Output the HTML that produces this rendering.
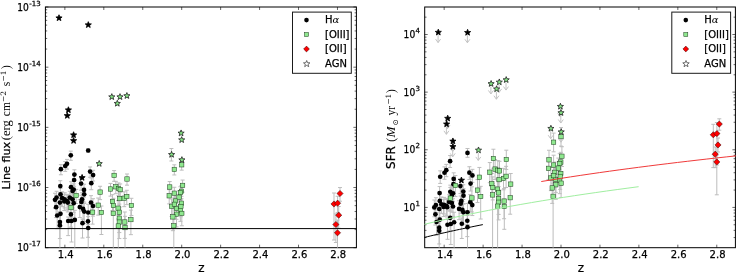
<!DOCTYPE html>
<html><head><meta charset="utf-8"><style>
html,body{margin:0;padding:0;background:#fff;}
svg{display:block;}
.t{font-family:"DejaVu Sans","Liberation Sans",sans-serif;font-size:10px;fill:#000;stroke:#000;stroke-width:0.25px;}
.m{font-family:"DejaVu Serif","Liberation Serif",serif;font-style:italic;stroke-width:0;}
.s{font-family:"Liberation Serif","DejaVu Serif",serif;}
.i{font-style:italic;}
.sd{font-family:"DejaVu Serif",serif;}
.sup{font-size:7px;}
.lg{font-size:10px;}
.yt{font-size:9.5px;}
.sub{font-size:7px;}
</style></head><body>
<svg width="736" height="272" viewBox="0 0 736 272">
<rect width="736" height="272" fill="#fff"/>
<rect x="45.4" y="7" width="311" height="240.7" fill="none" stroke="#000" stroke-width="1"/>
<path d="M64.87,247.7 v-3 M64.87,7 v3 M103.81,247.7 v-3 M103.81,7 v3 M142.76,247.7 v-3 M142.76,7 v3 M181.7,247.7 v-3 M181.7,7 v3 M220.64,247.7 v-3 M220.64,7 v3 M259.59,247.7 v-3 M259.59,7 v3 M298.53,247.7 v-3 M298.53,7 v3 M337.47,247.7 v-3 M337.47,7 v3 M45.4,247.7 h3 M356.4,247.7 h-3 M45.4,187.52 h3 M356.4,187.52 h-3 M45.4,127.35 h3 M356.4,127.35 h-3 M45.4,67.18 h3 M356.4,67.18 h-3 M45.4,7 h3 M356.4,7 h-3 M45.4,229.59 h1.8 M356.4,229.59 h-1.8 M45.4,218.99 h1.8 M356.4,218.99 h-1.8 M45.4,211.47 h1.8 M356.4,211.47 h-1.8 M45.4,205.64 h1.8 M356.4,205.64 h-1.8 M45.4,200.87 h1.8 M356.4,200.87 h-1.8 M45.4,196.85 h1.8 M356.4,196.85 h-1.8 M45.4,193.36 h1.8 M356.4,193.36 h-1.8 M45.4,190.28 h1.8 M356.4,190.28 h-1.8 M45.4,169.41 h1.8 M356.4,169.41 h-1.8 M45.4,158.81 h1.8 M356.4,158.81 h-1.8 M45.4,151.3 h1.8 M356.4,151.3 h-1.8 M45.4,145.46 h1.8 M356.4,145.46 h-1.8 M45.4,140.7 h1.8 M356.4,140.7 h-1.8 M45.4,136.67 h1.8 M356.4,136.67 h-1.8 M45.4,133.18 h1.8 M356.4,133.18 h-1.8 M45.4,130.1 h1.8 M356.4,130.1 h-1.8 M45.4,109.24 h1.8 M356.4,109.24 h-1.8 M45.4,98.64 h1.8 M356.4,98.64 h-1.8 M45.4,91.12 h1.8 M356.4,91.12 h-1.8 M45.4,85.29 h1.8 M356.4,85.29 h-1.8 M45.4,80.52 h1.8 M356.4,80.52 h-1.8 M45.4,76.5 h1.8 M356.4,76.5 h-1.8 M45.4,73.01 h1.8 M356.4,73.01 h-1.8 M45.4,69.93 h1.8 M356.4,69.93 h-1.8 M45.4,49.06 h1.8 M356.4,49.06 h-1.8 M45.4,38.46 h1.8 M356.4,38.46 h-1.8 M45.4,30.95 h1.8 M356.4,30.95 h-1.8 M45.4,25.11 h1.8 M356.4,25.11 h-1.8 M45.4,20.35 h1.8 M356.4,20.35 h-1.8 M45.4,16.32 h1.8 M356.4,16.32 h-1.8 M45.4,12.83 h1.8 M356.4,12.83 h-1.8 M45.4,9.75 h1.8 M356.4,9.75 h-1.8" stroke="#000" stroke-width="0.6" fill="none"/>
<rect x="424.7" y="7" width="310.7" height="240.7" fill="none" stroke="#000" stroke-width="1"/>
<path d="M444.17,247.7 v-3 M444.17,7 v3 M483.11,247.7 v-3 M483.11,7 v3 M522.06,247.7 v-3 M522.06,7 v3 M561,247.7 v-3 M561,7 v3 M599.94,247.7 v-3 M599.94,7 v3 M638.89,247.7 v-3 M638.89,7 v3 M677.83,247.7 v-3 M677.83,7 v3 M716.77,247.7 v-3 M716.77,7 v3 M424.7,207.41 h3 M735.4,207.41 h-3 M424.7,149.78 h3 M735.4,149.78 h-3 M424.7,92.14 h3 M735.4,92.14 h-3 M424.7,34.5 h3 M735.4,34.5 h-3 M424.7,237.55 h1.8 M735.4,237.55 h-1.8 M424.7,230.35 h1.8 M735.4,230.35 h-1.8 M424.7,224.76 h1.8 M735.4,224.76 h-1.8 M424.7,220.2 h1.8 M735.4,220.2 h-1.8 M424.7,216.34 h1.8 M735.4,216.34 h-1.8 M424.7,213 h1.8 M735.4,213 h-1.8 M424.7,210.05 h1.8 M735.4,210.05 h-1.8 M424.7,190.06 h1.8 M735.4,190.06 h-1.8 M424.7,179.91 h1.8 M735.4,179.91 h-1.8 M424.7,172.71 h1.8 M735.4,172.71 h-1.8 M424.7,167.13 h1.8 M735.4,167.13 h-1.8 M424.7,162.56 h1.8 M735.4,162.56 h-1.8 M424.7,158.7 h1.8 M735.4,158.7 h-1.8 M424.7,155.36 h1.8 M735.4,155.36 h-1.8 M424.7,152.41 h1.8 M735.4,152.41 h-1.8 M424.7,132.42 h1.8 M735.4,132.42 h-1.8 M424.7,122.28 h1.8 M735.4,122.28 h-1.8 M424.7,115.07 h1.8 M735.4,115.07 h-1.8 M424.7,109.49 h1.8 M735.4,109.49 h-1.8 M424.7,104.92 h1.8 M735.4,104.92 h-1.8 M424.7,101.07 h1.8 M735.4,101.07 h-1.8 M424.7,97.72 h1.8 M735.4,97.72 h-1.8 M424.7,94.78 h1.8 M735.4,94.78 h-1.8 M424.7,74.79 h1.8 M735.4,74.79 h-1.8 M424.7,64.64 h1.8 M735.4,64.64 h-1.8 M424.7,57.44 h1.8 M735.4,57.44 h-1.8 M424.7,51.85 h1.8 M735.4,51.85 h-1.8 M424.7,47.29 h1.8 M735.4,47.29 h-1.8 M424.7,43.43 h1.8 M735.4,43.43 h-1.8 M424.7,40.09 h1.8 M735.4,40.09 h-1.8 M424.7,37.14 h1.8 M735.4,37.14 h-1.8 M424.7,17.15 h1.8 M735.4,17.15 h-1.8" stroke="#000" stroke-width="0.6" fill="none"/>
<g stroke="#bdbdbd" stroke-width="1" fill="none"><path d="M70.8,151.11 V160.3 M68.8,151.11 h4 M68.8,160.3 h4"/><path d="M67,159.4 V169.1 M65,159.4 h4 M65,169.1 h4"/><path d="M65.2,161.53 V171.39 M63.2,161.53 h4 M63.2,171.39 h4"/><path d="M60.9,164.63 V174.75 M58.9,164.63 h4 M58.9,174.75 h4"/><path d="M74.4,169.82 V180.46 M72.4,169.82 h4 M72.4,180.46 h4"/><path d="M74.1,174.96 V186.25 M72.1,174.96 h4 M72.1,186.25 h4"/><path d="M81.1,178.36 V190.16 M79.1,178.36 h4 M79.1,190.16 h4"/><path d="M90.1,166.94 V177.28 M88.1,166.94 h4 M88.1,177.28 h4"/><path d="M93.1,170.3 V180.99 M91.1,170.3 h4 M91.1,180.99 h4"/><path d="M91.3,177.99 V189.73 M89.3,177.99 h4 M89.3,189.73 h4"/><path d="M88.2,148.6 V152.4 M86.2,148.6 h4 M86.2,152.4 h4"/><path d="M60.3,180.71 V192.91 M58.3,180.71 h4 M58.3,192.91 h4"/><path d="M71,181.73 V194.13 M69,181.73 h4 M69,194.13 h4"/><path d="M73.7,183.87 V196.69 M71.7,183.87 h4 M71.7,196.69 h4"/><path d="M84,184.24 V197.14 M82,184.24 h4 M82,197.14 h4"/><path d="M72.6,185.26 V198.37 M70.6,185.26 h4 M70.6,198.37 h4"/><path d="M64.7,192.81 V207.96 M62.7,192.81 h4 M62.7,207.96 h4"/><path d="M67.8,195.75 V211.92 M65.8,195.75 h4 M65.8,211.92 h4"/><path d="M60.5,188.29 V202.13 M58.5,188.29 h4 M58.5,202.13 h4"/><path d="M84.2,188.29 V202.13 M82.2,188.29 h4 M82.2,202.13 h4"/><path d="M56.6,191.28 V205.95 M54.6,191.28 h4 M54.6,205.95 h4"/><path d="M55,193.26 V208.55 M53,193.26 h4 M53,208.55 h4"/><path d="M62.1,191.82 V206.66 M60.1,191.82 h4 M60.1,206.66 h4"/><path d="M64.3,194.78 V210.58 M62.3,194.78 h4 M62.3,210.58 h4"/><path d="M67.1,194.33 V209.98 M65.1,194.33 h4 M65.1,209.98 h4"/><path d="M69.8,191.28 V205.95 M67.8,191.28 h4 M67.8,205.95 h4"/><path d="M72.6,192.81 V207.96 M70.6,192.81 h4 M70.6,207.96 h4"/><path d="M73.7,196.28 V212.65 M71.7,196.28 h4 M71.7,212.65 h4"/><path d="M82,192.81 V207.96 M80,192.81 h4 M80,207.96 h4"/><path d="M81.4,195.22 V211.19 M79.4,195.22 h4 M79.4,211.19 h4"/><path d="M59.9,195.75 V211.92 M57.9,195.75 h4 M57.9,211.92 h4"/><path d="M56.1,199.78 V217.62 M54.1,199.78 h4 M54.1,217.62 h4"/><path d="M79.8,199.69 V217.5 M77.8,199.69 h4 M77.8,217.5 h4"/><path d="M83.1,201.24 V219.8 M81.1,201.24 h4 M81.1,219.8 h4"/><path d="M84.2,203.54 V223.34 M82.2,203.54 h4 M82.2,223.34 h4"/><path d="M57.2,206.79 V228.68 M55.2,206.79 h4 M55.2,228.68 h4"/><path d="M60.5,205.38 V226.32 M58.5,205.38 h4 M58.5,226.32 h4"/><path d="M70.9,205.88 V227.14 M68.9,205.88 h4 M68.9,227.14 h4"/><path d="M68.2,217 V235.6 M66.2,217 h4 M66.2,235.6 h4"/><path d="M71.5,217 V242 M69.5,217 h4 M69.5,242 h4"/><path d="M74.8,210.35 V247.7 M72.8,210.35 h4"/><path d="M59.9,212.09 V238.56 M57.9,212.09 h4 M57.9,238.56 h4"/><path d="M59.9,214.64 V247.7 M57.9,214.64 h4"/><path d="M82.5,219 V238 M80.5,219 h4 M80.5,238 h4"/><path d="M88,211.46 V237.29 M86,211.46 h4 M86,237.29 h4"/><path d="M88.2,216.6 V247.7 M86.2,216.6 h4"/><path d="M91,195.66 V211.79 M89,195.66 h4 M89,211.79 h4"/><path d="M93,198.73 V216.11 M91,198.73 h4 M91,216.11 h4"/><path d="M88.2,204.29 V224.55 M86.2,204.29 h4 M86.2,224.55 h4"/><path d="M76.1,189.38 V203.51 M74.1,189.38 h4 M74.1,203.51 h4"/><path d="M71,200.12 V218.13 M69,200.12 h4 M69,218.13 h4"/><path d="M92.6,204.04 V224.14 M90.6,204.04 h4 M90.6,224.14 h4"/><path d="M98.2,198.04 V215.11 M96.2,198.04 h4 M96.2,215.11 h4"/><path d="M100.1,186.27 V199.62 M98.1,186.27 h4 M98.1,199.62 h4"/><path d="M101.4,206 V234.5 M99.4,206 h4 M99.4,234.5 h4"/><path d="M110.5,183.41 V196.13 M108.5,183.41 h4 M108.5,196.13 h4"/><path d="M115.8,181.36 V193.68 M113.8,181.36 h4 M113.8,193.68 h4"/><path d="M118.5,182.94 V195.57 M116.5,182.94 h4 M116.5,195.57 h4"/><path d="M114.1,170.58 V181.31 M112.1,170.58 h4 M112.1,181.31 h4"/><path d="M127,174.01 V185.17 M125,174.01 h4 M125,185.17 h4"/><path d="M120.2,183.96 V196.8 M118.2,183.96 h4 M118.2,196.8 h4"/><path d="M119.8,192.18 V207.13 M117.8,192.18 h4 M117.8,207.13 h4"/><path d="M124.2,191.82 V206.66 M122.2,191.82 h4 M122.2,206.66 h4"/><path d="M126.8,190.29 V204.67 M124.8,190.29 h4 M124.8,204.67 h4"/><path d="M112.5,194.69 V210.46 M110.5,194.69 h4 M110.5,210.46 h4"/><path d="M113.4,198.3 V215.48 M111.4,198.3 h4 M111.4,215.48 h4"/><path d="M113.3,204.96 V247.7 M111.3,204.96 h4"/><path d="M118.1,200.64 V218.9 M116.1,200.64 h4 M116.1,218.9 h4"/><path d="M119.3,204.13 V224.28 M117.3,204.13 h4 M117.3,224.28 h4"/><path d="M119.3,208.99 V232.57 M117.3,208.99 h4 M117.3,232.57 h4"/><path d="M119.3,212.09 V238.56 M117.3,212.09 h4 M117.3,238.56 h4"/><path d="M124.8,212.01 V238.4 M122.8,212.01 h4 M122.8,238.4 h4"/><path d="M118.3,215.1 V247.7 M116.3,215.1 h4"/><path d="M125,216.3 V247.7 M123,216.3 h4"/><path d="M131.4,198.3 V215.48 M129.4,198.3 h4 M129.4,215.48 h4"/><path d="M130.9,210.11 V234.67 M128.9,210.11 h4 M128.9,234.67 h4"/><path d="M181.7,160.37 V170.14 M179.7,160.37 h4 M179.7,170.14 h4"/><path d="M174.3,164.82 V174.96 M172.3,164.82 h4 M172.3,174.96 h4"/><path d="M169.7,181.55 V193.9 M167.7,181.55 h4 M167.7,193.9 h4"/><path d="M182.6,180.05 V192.14 M180.6,180.05 h4 M180.6,192.14 h4"/><path d="M181.5,185.54 V198.71 M179.5,185.54 h4 M179.5,198.71 h4"/><path d="M180.4,186.73 V200.19 M178.4,186.73 h4 M178.4,200.19 h4"/><path d="M174.3,187.28 V200.87 M172.3,187.28 h4 M172.3,200.87 h4"/><path d="M169.2,189.65 V203.86 M167.2,189.65 h4 M167.2,203.86 h4"/><path d="M179,190.92 V205.49 M177,190.92 h4 M177,205.49 h4"/><path d="M175.4,194.33 V209.98 M173.4,194.33 h4 M173.4,209.98 h4"/><path d="M181.5,196.28 V212.65 M179.5,196.28 h4 M179.5,212.65 h4"/><path d="M171.6,199 V216.49 M169.6,199 h4 M169.6,216.49 h4"/><path d="M176.5,200.9 V219.28 M174.5,200.9 h4 M174.5,219.28 h4"/><path d="M180.4,202.26 V221.36 M178.4,202.26 h4 M178.4,221.36 h4"/><path d="M176.5,205.71 V226.87 M174.5,205.71 h4 M174.5,226.87 h4"/><path d="M181.8,205.05 V225.77 M179.8,205.05 h4 M179.8,225.77 h4"/><path d="M172.9,207.93 V230.68 M170.9,207.93 h4 M170.9,230.68 h4"/><path d="M173.8,214.94 V247.7 M171.8,214.94 h4"/><path d="M180.9,199.17 V216.74 M178.9,199.17 h4 M178.9,216.74 h4"/><path d="M174.4,197.25 V214 M172.4,197.25 h4 M172.4,214 h4"/><path d="M334,193 V240 M332,193 h4 M332,240 h4"/><path d="M337.6,196.28 V212.65 M335.6,196.28 h4 M335.6,212.65 h4"/><path d="M340,187.56 V201.21 M338,187.56 h4 M338,201.21 h4"/><path d="M338.7,206.54 V228.26 M336.7,206.54 h4 M336.7,228.26 h4"/><path d="M335.9,213.95 V242.51 M333.9,213.95 h4 M333.9,242.51 h4"/><path d="M337.5,220.07 V247.7 M335.5,220.07 h4"/><path d="M171.4,148.5 V161 M169.4,148.5 h4 M169.4,161 h4"/></g>
<g fill="#000"><circle cx="70.8" cy="155.3" r="2.35"/><circle cx="67" cy="163.8" r="2.35"/><circle cx="65.2" cy="166" r="2.35"/><circle cx="60.9" cy="169.2" r="2.35"/><circle cx="74.4" cy="174.6" r="2.35"/><circle cx="74.1" cy="180" r="2.35"/><circle cx="81.1" cy="183.6" r="2.35"/><circle cx="90.1" cy="171.6" r="2.35"/><circle cx="93.1" cy="175.1" r="2.35"/><circle cx="91.3" cy="183.2" r="2.35"/><circle cx="88.2" cy="150.5" r="2.35"/><circle cx="60.3" cy="186.1" r="2.35"/><circle cx="71" cy="187.2" r="2.35"/><circle cx="73.7" cy="189.5" r="2.35"/><circle cx="84" cy="189.9" r="2.35"/><circle cx="72.6" cy="191" r="2.35"/><circle cx="64.7" cy="199.3" r="2.35"/><circle cx="67.8" cy="202.6" r="2.35"/><circle cx="60.5" cy="194.3" r="2.35"/><circle cx="84.2" cy="194.3" r="2.35"/><circle cx="56.6" cy="197.6" r="2.35"/><circle cx="55" cy="199.8" r="2.35"/><circle cx="62.1" cy="198.2" r="2.35"/><circle cx="64.3" cy="201.5" r="2.35"/><circle cx="67.1" cy="201" r="2.35"/><circle cx="69.8" cy="197.6" r="2.35"/><circle cx="72.6" cy="199.3" r="2.35"/><circle cx="73.7" cy="203.2" r="2.35"/><circle cx="82" cy="199.3" r="2.35"/><circle cx="81.4" cy="202" r="2.35"/><circle cx="59.9" cy="202.6" r="2.35"/><circle cx="56.1" cy="207.2" r="2.35"/><circle cx="79.8" cy="207.1" r="2.35"/><circle cx="83.1" cy="208.9" r="2.35"/><circle cx="84.2" cy="211.6" r="2.35"/><circle cx="57.2" cy="215.5" r="2.35"/><circle cx="60.5" cy="213.8" r="2.35"/><circle cx="70.9" cy="214.4" r="2.35"/><circle cx="68.2" cy="221" r="2.35"/><circle cx="71.5" cy="221" r="2.35"/><circle cx="74.8" cy="219.9" r="2.35"/><circle cx="59.9" cy="222.1" r="2.35"/><circle cx="59.9" cy="225.4" r="2.35"/><circle cx="82.5" cy="223.2" r="2.35"/><circle cx="88" cy="221.3" r="2.35"/><circle cx="88.2" cy="228" r="2.35"/><circle cx="91" cy="202.5" r="2.35"/><circle cx="93" cy="206" r="2.35"/><circle cx="88.2" cy="212.5" r="2.35"/></g>
<g fill="#8fe88f" stroke="#1a3a1a" stroke-width="0.5"><rect x="73.9" y="193.3" width="4.4" height="4.4"/><rect x="68.8" y="205.4" width="4.4" height="4.4"/><rect x="90.4" y="210" width="4.4" height="4.4"/><rect x="96" y="203" width="4.4" height="4.4"/><rect x="97.9" y="189.9" width="4.4" height="4.4"/><rect x="99.2" y="210.3" width="4.4" height="4.4"/><rect x="108.3" y="186.8" width="4.4" height="4.4"/><rect x="113.6" y="184.6" width="4.4" height="4.4"/><rect x="116.3" y="186.3" width="4.4" height="4.4"/><rect x="111.9" y="173.2" width="4.4" height="4.4"/><rect x="124.8" y="176.8" width="4.4" height="4.4"/><rect x="118" y="187.4" width="4.4" height="4.4"/><rect x="117.6" y="196.4" width="4.4" height="4.4"/><rect x="122" y="196" width="4.4" height="4.4"/><rect x="124.6" y="194.3" width="4.4" height="4.4"/><rect x="110.3" y="199.2" width="4.4" height="4.4"/><rect x="111.2" y="203.3" width="4.4" height="4.4"/><rect x="111.1" y="211.1" width="4.4" height="4.4"/><rect x="115.9" y="206" width="4.4" height="4.4"/><rect x="117.1" y="210.1" width="4.4" height="4.4"/><rect x="117.1" y="216" width="4.4" height="4.4"/><rect x="117.1" y="219.9" width="4.4" height="4.4"/><rect x="122.6" y="219.8" width="4.4" height="4.4"/><rect x="116.1" y="223.8" width="4.4" height="4.4"/><rect x="122.8" y="225.4" width="4.4" height="4.4"/><rect x="129.2" y="203.3" width="4.4" height="4.4"/><rect x="128.7" y="217.4" width="4.4" height="4.4"/><rect x="179.5" y="162.6" width="4.4" height="4.4"/><rect x="172.1" y="167.2" width="4.4" height="4.4"/><rect x="167.5" y="184.8" width="4.4" height="4.4"/><rect x="180.4" y="183.2" width="4.4" height="4.4"/><rect x="179.3" y="189.1" width="4.4" height="4.4"/><rect x="178.2" y="190.4" width="4.4" height="4.4"/><rect x="172.1" y="191" width="4.4" height="4.4"/><rect x="167" y="193.6" width="4.4" height="4.4"/><rect x="176.8" y="195" width="4.4" height="4.4"/><rect x="173.2" y="198.8" width="4.4" height="4.4"/><rect x="179.3" y="201" width="4.4" height="4.4"/><rect x="169.4" y="204.1" width="4.4" height="4.4"/><rect x="174.3" y="206.3" width="4.4" height="4.4"/><rect x="178.2" y="207.9" width="4.4" height="4.4"/><rect x="174.3" y="212" width="4.4" height="4.4"/><rect x="179.6" y="211.2" width="4.4" height="4.4"/><rect x="170.7" y="214.7" width="4.4" height="4.4"/><rect x="171.6" y="223.6" width="4.4" height="4.4"/><rect x="178.7" y="204.3" width="4.4" height="4.4"/><rect x="172.2" y="202.1" width="4.4" height="4.4"/></g>
<g fill="#f00" stroke="#300" stroke-width="0.5"><path d="M334,200.9 L337.1,204 L334,207.1 L330.9,204 Z"/><path d="M337.6,200.1 L340.7,203.2 L337.6,206.3 L334.5,203.2 Z"/><path d="M340,190.4 L343.1,193.5 L340,196.6 L336.9,193.5 Z"/><path d="M338.7,212.1 L341.8,215.2 L338.7,218.3 L335.6,215.2 Z"/><path d="M335.9,221.4 L339,224.5 L335.9,227.6 L332.8,224.5 Z"/><path d="M337.5,229.7 L340.6,232.8 L337.5,235.9 L334.4,232.8 Z"/></g>
<g fill="#000" stroke="#000" stroke-width="0.8" stroke-linejoin="miter"><path d="M59,14.75 L59.82,16.87 L62.09,17 L60.33,18.43 L60.91,20.63 L59,19.4 L57.09,20.63 L57.67,18.43 L55.91,17 L58.18,16.87Z"/><path d="M88.3,21.65 L89.12,23.77 L91.39,23.9 L89.63,25.33 L90.21,27.53 L88.3,26.3 L86.39,27.53 L86.97,25.33 L85.21,23.9 L87.48,23.77Z"/><path d="M68.4,106.75 L69.22,108.87 L71.49,109 L69.73,110.43 L70.31,112.63 L68.4,111.4 L66.49,112.63 L67.07,110.43 L65.31,109 L67.58,108.87Z"/><path d="M67.3,112.45 L68.12,114.57 L70.39,114.7 L68.63,116.13 L69.21,118.33 L67.3,117.1 L65.39,118.33 L65.97,116.13 L64.21,114.7 L66.48,114.57Z"/><path d="M73.6,131.75 L74.42,133.87 L76.69,134 L74.93,135.43 L75.51,137.63 L73.6,136.4 L71.69,137.63 L72.27,135.43 L70.51,134 L72.78,133.87Z"/><path d="M73.6,137.45 L74.42,139.57 L76.69,139.7 L74.93,141.13 L75.51,143.33 L73.6,142.1 L71.69,143.33 L72.27,141.13 L70.51,139.7 L72.78,139.57Z"/><path d="M82.1,174.45 L82.92,176.57 L85.19,176.7 L83.43,178.13 L84.01,180.33 L82.1,179.1 L80.19,180.33 L80.77,178.13 L79.01,176.7 L81.28,176.57Z"/></g>
<g fill="#84e284" stroke="#222" stroke-width="0.8"><path d="M99.2,160.45 L100.02,162.57 L102.29,162.7 L100.53,164.13 L101.11,166.33 L99.2,165.1 L97.29,166.33 L97.87,164.13 L96.11,162.7 L98.38,162.57Z"/><path d="M111.8,93.65 L112.62,95.77 L114.89,95.9 L113.13,97.33 L113.71,99.53 L111.8,98.3 L109.89,99.53 L110.47,97.33 L108.71,95.9 L110.98,95.77Z"/><path d="M120,93.65 L120.82,95.77 L123.09,95.9 L121.33,97.33 L121.91,99.53 L120,98.3 L118.09,99.53 L118.67,97.33 L116.91,95.9 L119.18,95.77Z"/><path d="M126.9,92.55 L127.72,94.67 L129.99,94.8 L128.23,96.23 L128.81,98.43 L126.9,97.2 L124.99,98.43 L125.57,96.23 L123.81,94.8 L126.08,94.67Z"/><path d="M117.3,100.25 L118.12,102.37 L120.39,102.5 L118.63,103.93 L119.21,106.13 L117.3,104.9 L115.39,106.13 L115.97,103.93 L114.21,102.5 L116.48,102.37Z"/><path d="M181.1,129.95 L181.92,132.07 L184.19,132.2 L182.43,133.63 L183.01,135.83 L181.1,134.6 L179.19,135.83 L179.77,133.63 L178.01,132.2 L180.28,132.07Z"/><path d="M181.7,136.65 L182.52,138.77 L184.79,138.9 L183.03,140.33 L183.61,142.53 L181.7,141.3 L179.79,142.53 L180.37,140.33 L178.61,138.9 L180.88,138.77Z"/><path d="M171.6,151.35 L172.42,153.47 L174.69,153.6 L172.93,155.03 L173.51,157.23 L171.6,156 L169.69,157.23 L170.27,155.03 L168.51,153.6 L170.78,153.47Z"/><path d="M181.9,156.65 L182.72,158.77 L184.99,158.9 L183.23,160.33 L183.81,162.53 L181.9,161.3 L179.99,162.53 L180.57,160.33 L178.81,158.9 L181.08,158.77Z"/></g>
<g stroke="#bdbdbd" stroke-width="1" fill="none"><path d="M450.1,155.55 V167.46 M448.1,155.55 h4 M448.1,167.46 h4"/><path d="M446.3,164.4 V176.68 M444.3,164.4 h4 M444.3,176.68 h4"/><path d="M444.5,166.87 V179.26 M442.5,166.87 h4 M442.5,179.26 h4"/><path d="M440.2,170.84 V183.43 M438.2,170.84 h4 M438.2,183.43 h4"/><path d="M453.7,172.84 V185.82 M451.7,172.84 h4 M451.7,185.82 h4"/><path d="M453.4,177.9 V191.37 M451.4,177.9 h4 M451.4,191.37 h4"/><path d="M460.4,179.68 V193.55 M458.4,179.68 h4 M458.4,193.55 h4"/><path d="M469.4,166.72 V179.47 M467.4,166.72 h4 M467.4,179.47 h4"/><path d="M472.4,169.35 V182.37 M470.4,169.35 h4 M470.4,182.37 h4"/><path d="M470.6,177.18 V191 M468.6,177.18 h4 M468.6,191 h4"/><path d="M467.5,148.5 V157.29 M465.5,148.5 h4 M465.5,157.29 h4"/><path d="M439.6,186.57 V200.76 M437.6,186.57 h4 M437.6,200.76 h4"/><path d="M450.3,185.15 V199.49 M448.3,185.15 h4 M448.3,199.49 h4"/><path d="M453,186.64 V201.32 M451,186.64 h4 M451,201.32 h4"/><path d="M463.3,184.79 V199.53 M461.3,184.79 h4 M461.3,199.53 h4"/><path d="M451.9,188.23 V203.15 M449.9,188.23 h4 M449.9,203.15 h4"/><path d="M444,197.36 V213.96 M442,197.36 h4 M442,213.96 h4"/><path d="M447.1,199.53 V216.99 M445.1,199.53 h4 M445.1,216.99 h4"/><path d="M439.8,193.9 V209.42 M437.8,193.9 h4 M437.8,209.42 h4"/><path d="M463.5,188.68 V204.2 M461.5,188.68 h4 M461.5,204.2 h4"/><path d="M435.9,197.73 V213.93 M433.9,197.73 h4 M433.9,213.93 h4"/><path d="M434.3,200.03 V216.75 M432.3,200.03 h4 M432.3,216.75 h4"/><path d="M441.4,196.98 V213.32 M439.4,196.98 h4 M439.4,213.32 h4"/><path d="M443.6,199.36 V216.53 M441.6,199.36 h4 M441.6,216.53 h4"/><path d="M446.4,198.3 V215.33 M444.4,198.3 h4 M444.4,215.33 h4"/><path d="M449.1,194.72 V210.92 M447.1,194.72 h4 M447.1,210.92 h4"/><path d="M451.9,195.59 V212.19 M449.9,195.59 h4 M449.9,212.19 h4"/><path d="M453,198.74 V216.38 M451,198.74 h4 M451,216.38 h4"/><path d="M461.3,193.56 V210.16 M459.3,193.56 h4 M459.3,210.16 h4"/><path d="M460.7,196.04 V213.34 M458.7,196.04 h4 M458.7,213.34 h4"/><path d="M439.2,201.32 V218.79 M437.2,201.32 h4 M437.2,218.79 h4"/><path d="M435.4,206.13 V225.05 M433.4,206.13 h4 M433.4,225.05 h4"/><path d="M459.1,200.75 V219.63 M457.1,200.75 h4 M457.1,219.63 h4"/><path d="M462.4,201.56 V221.1 M460.4,201.56 h4 M460.4,221.1 h4"/><path d="M463.5,203.57 V224.21 M461.5,203.57 h4 M461.5,224.21 h4"/><path d="M436.5,212.73 V235.24 M434.5,212.73 h4 M434.5,235.24 h4"/><path d="M439.8,210.59 V232.24 M437.8,210.59 h4 M437.8,232.24 h4"/><path d="M450.2,208.74 V230.68 M448.2,208.74 h4 M448.2,230.68 h4"/><path d="M447.5,219.21 V239.3 M445.5,219.21 h4 M445.5,239.3 h4"/><path d="M450.8,218.48 V244.54 M448.8,218.48 h4 M448.8,244.54 h4"/><path d="M454.1,212.26 V247.7 M452.1,212.26 h4"/><path d="M439.2,217.3 V243.96 M437.2,217.3 h4 M437.2,243.96 h4"/><path d="M439.2,219.79 V247.7 M437.2,219.79 h4"/><path d="M461.8,218.07 V238.48 M459.8,218.07 h4 M459.8,238.48 h4"/><path d="M467.3,210.53 V236.61 M465.3,210.53 h4 M465.3,236.61 h4"/><path d="M467.5,215.51 V247.7 M465.5,215.51 h4"/><path d="M470.3,194.46 V211.9 M468.3,194.46 h4 M468.3,211.9 h4"/><path d="M472.3,197.05 V215.56 M470.3,197.05 h4 M470.3,215.56 h4"/><path d="M467.5,203.48 V224.51 M465.5,203.48 h4 M465.5,224.51 h4"/><path d="M455.4,175.54 V196.55 M453.4,175.54 h4 M453.4,196.55 h4"/><path d="M450.3,187.43 V211.05 M448.3,187.43 h4 M448.3,211.05 h4"/><path d="M471.9,186.8 V211.94 M469.9,186.8 h4 M469.9,211.94 h4"/><path d="M477.5,179.6 V202.56 M475.5,179.6 h4 M475.5,202.56 h4"/><path d="M479.4,167.45 V187.97 M477.4,167.45 h4 M477.4,187.97 h4"/><path d="M480.7,186.35 V219.04 M478.7,186.35 h4 M478.7,219.04 h4"/><path d="M489.8,162.56 V182.71 M487.8,162.56 h4 M487.8,182.71 h4"/><path d="M495.1,159.52 V179.44 M493.1,159.52 h4 M493.1,179.44 h4"/><path d="M497.8,160.58 V180.67 M495.8,160.58 h4 M495.8,180.67 h4"/><path d="M493.4,149.23 V168.27 M491.4,149.23 h4 M491.4,168.27 h4"/><path d="M506.3,150.19 V169.45 M504.3,150.19 h4 M504.3,169.45 h4"/><path d="M499.5,161.27 V181.49 M497.5,161.27 h4 M497.5,181.49 h4"/><path d="M499.1,169.53 V191.06 M497.1,169.53 h4 M497.1,191.06 h4"/><path d="M503.5,168.35 V189.81 M501.5,168.35 h4 M501.5,189.81 h4"/><path d="M506.1,166.34 V187.5 M504.1,166.34 h4 M504.1,187.5 h4"/><path d="M491.8,173.42 V195.5 M489.8,173.42 h4 M489.8,195.5 h4"/><path d="M492.7,176.88 V199.92 M490.7,176.88 h4 M490.7,199.92 h4"/><path d="M492.6,183.63 V247.7 M490.6,183.63 h4"/><path d="M497.4,178.35 V202.14 M495.4,178.35 h4 M495.4,202.14 h4"/><path d="M498.6,181.65 V206.83 M496.6,181.65 h4 M496.6,206.83 h4"/><path d="M498.6,186.58 V214.42 M496.6,186.58 h4 M496.6,214.42 h4"/><path d="M498.6,189.74 V219.91 M496.6,189.74 h4 M496.6,219.91 h4"/><path d="M504.1,188.64 V218.74 M502.1,188.64 h4 M502.1,218.74 h4"/><path d="M497.6,193 V247.7 M495.6,193 h4"/><path d="M504.3,199 V229.3 M502.3,199 h4 M502.3,229.3 h4"/><path d="M510.7,173.53 V196.57 M508.7,173.53 h4 M508.7,196.57 h4"/><path d="M510.2,185.59 V214.2 M508.2,185.59 h4 M508.2,214.2 h4"/><path d="M561,127.58 V146.13 M559,127.58 h4 M559,146.13 h4"/><path d="M553.6,133.09 V151.82 M551.6,133.09 h4 M551.6,151.82 h4"/><path d="M549,150.26 V170.2 M547,150.26 h4 M547,170.2 h4"/><path d="M561.9,146.73 V166.51 M559.9,146.73 h4 M559.9,166.51 h4"/><path d="M560.8,152.33 V172.75 M558.8,152.33 h4 M558.8,172.75 h4"/><path d="M559.7,153.69 V174.28 M557.7,153.69 h4 M557.7,174.28 h4"/><path d="M553.6,155.21 V175.88 M551.6,155.21 h4 M551.6,175.88 h4"/><path d="M548.5,158.4 V179.45 M546.5,158.4 h4 M546.5,179.45 h4"/><path d="M558.3,158.09 V179.37 M556.3,158.09 h4 M556.3,179.37 h4"/><path d="M554.7,162.08 V184.07 M552.7,162.08 h4 M552.7,184.07 h4"/><path d="M560.8,163.07 V185.54 M558.8,163.07 h4 M558.8,185.54 h4"/><path d="M550.9,167.37 V190.62 M548.9,167.37 h4 M548.9,190.62 h4"/><path d="M555.8,168.5 V192.39 M553.8,168.5 h4 M553.8,192.39 h4"/><path d="M559.7,169.27 V193.67 M557.7,169.27 h4 M557.7,193.67 h4"/><path d="M555.8,173.38 V199.32 M553.8,173.38 h4 M553.8,199.32 h4"/><path d="M561.1,171.87 V197.48 M559.1,171.87 h4 M559.1,197.48 h4"/><path d="M552.2,176.21 V203.39 M550.2,176.21 h4 M550.2,203.39 h4"/><path d="M553.1,183.21 V247.7 M551.1,183.21 h4"/><path d="M560.2,166.07 V189.37 M558.2,166.07 h4 M558.2,189.37 h4"/><path d="M553.7,165.16 V187.9 M551.7,165.16 h4 M551.7,187.9 h4"/><path d="M713.3,124.3 V167.6 M711.3,124.3 h4 M711.3,167.6 h4"/><path d="M716.9,122.5 V165 M714.9,122.5 h4 M714.9,165 h4"/><path d="M719.3,118.8 V130.2 M717.3,118.8 h4 M717.3,130.2 h4"/><path d="M718,138 V152 M716,138 h4 M716,152 h4"/><path d="M715.2,147 V167.6 M713.2,147 h4 M713.2,167.6 h4"/><path d="M716.8,155 V194.8 M714.8,155 h4 M714.8,194.8 h4"/></g>
<g stroke="#c4c4c4" stroke-width="1" fill="none"><path d="M438.1,35.09 V42.59 M435.6,39.09 L438.1,42.59 L440.6,39.09"/><path d="M467.4,35.28 V42.78 M464.9,39.28 L467.4,42.78 L469.9,39.28"/><path d="M447.5,121.11 V128.61 M445,125.11 L447.5,128.61 L450,125.11"/><path d="M446.4,126.82 V134.32 M443.9,130.82 L446.4,134.32 L448.9,130.82"/><path d="M452.7,143.91 V151.41 M450.2,147.91 L452.7,151.41 L455.2,147.91"/><path d="M452.7,149.37 V156.87 M450.2,153.37 L452.7,156.87 L455.2,153.37"/><path d="M461.2,182.99 V190.49 M458.7,186.99 L461.2,190.49 L463.7,186.99"/><path d="M478.3,152.93 V160.43 M475.8,156.93 L478.3,160.43 L480.8,156.93"/><path d="M490.9,86.45 V93.95 M488.4,90.45 L490.9,93.95 L493.4,90.45"/><path d="M499.1,84.89 V92.39 M496.6,88.89 L499.1,92.39 L501.6,88.89"/><path d="M506,82.55 V90.05 M503.5,86.55 L506,90.05 L508.5,86.55"/><path d="M496.4,91.72 V99.22 M493.9,95.72 L496.4,99.22 L498.9,95.72"/><path d="M560.2,109.19 V116.69 M557.7,113.19 L560.2,116.69 L562.7,113.19"/><path d="M560.8,115.52 V123.02 M558.3,119.52 L560.8,123.02 L563.3,119.52"/><path d="M550.7,131.21 V138.71 M548.2,135.21 L550.7,138.71 L553.2,135.21"/><path d="M561,134.65 V142.15 M558.5,138.65 L561,142.15 L563.5,138.65"/></g>
<g fill="#000"><circle cx="450.1" cy="161.22" r="2.35"/><circle cx="446.3" cy="170.21" r="2.35"/><circle cx="444.5" cy="172.73" r="2.35"/><circle cx="440.2" cy="176.77" r="2.35"/><circle cx="453.7" cy="178.92" r="2.35"/><circle cx="453.4" cy="184.16" r="2.35"/><circle cx="460.4" cy="186.1" r="2.35"/><circle cx="469.4" cy="172.72" r="2.35"/><circle cx="472.4" cy="175.45" r="2.35"/><circle cx="470.6" cy="183.58" r="2.35"/><circle cx="467.5" cy="152.89" r="2.35"/><circle cx="439.6" cy="193.1" r="2.35"/><circle cx="450.3" cy="191.74" r="2.35"/><circle cx="453" cy="193.35" r="2.35"/><circle cx="463.3" cy="191.52" r="2.35"/><circle cx="451.9" cy="195.03" r="2.35"/><circle cx="444" cy="204.75" r="2.35"/><circle cx="447.1" cy="207.21" r="2.35"/><circle cx="439.8" cy="200.91" r="2.35"/><circle cx="463.5" cy="195.7" r="2.35"/><circle cx="435.9" cy="204.98" r="2.35"/><circle cx="434.3" cy="207.46" r="2.35"/><circle cx="441.4" cy="204.28" r="2.35"/><circle cx="443.6" cy="206.95" r="2.35"/><circle cx="446.4" cy="205.84" r="2.35"/><circle cx="449.1" cy="201.98" r="2.35"/><circle cx="451.9" cy="202.99" r="2.35"/><circle cx="453" cy="206.48" r="2.35"/><circle cx="461.3" cy="200.95" r="2.35"/><circle cx="460.7" cy="203.67" r="2.35"/><circle cx="439.2" cy="209.01" r="2.35"/><circle cx="435.4" cy="214.29" r="2.35"/><circle cx="459.1" cy="208.9" r="2.35"/><circle cx="462.4" cy="209.92" r="2.35"/><circle cx="463.5" cy="212.27" r="2.35"/><circle cx="436.5" cy="221.99" r="2.35"/><circle cx="439.8" cy="219.6" r="2.35"/><circle cx="450.2" cy="217.83" r="2.35"/><circle cx="447.5" cy="224.75" r="2.35"/><circle cx="450.8" cy="224.02" r="2.35"/><circle cx="454.1" cy="222.24" r="2.35"/><circle cx="439.2" cy="227.69" r="2.35"/><circle cx="439.2" cy="230.85" r="2.35"/><circle cx="461.8" cy="223.75" r="2.35"/><circle cx="467.3" cy="220.77" r="2.35"/><circle cx="467.5" cy="227.15" r="2.35"/><circle cx="470.3" cy="202.14" r="2.35"/><circle cx="472.3" cy="205.08" r="2.35"/><circle cx="467.5" cy="212.3" r="2.35"/></g>
<g fill="#8fe88f" stroke="#1a3a1a" stroke-width="0.5"><rect x="453.2" y="183.26" width="4.4" height="4.4"/><rect x="448.1" y="195.97" width="4.4" height="4.4"/><rect x="469.7" y="195.78" width="4.4" height="4.4"/><rect x="475.3" y="187.94" width="4.4" height="4.4"/><rect x="477.2" y="175.01" width="4.4" height="4.4"/><rect x="478.5" y="194.29" width="4.4" height="4.4"/><rect x="487.6" y="169.99" width="4.4" height="4.4"/><rect x="492.9" y="166.87" width="4.4" height="4.4"/><rect x="495.6" y="167.99" width="4.4" height="4.4"/><rect x="491.2" y="156.27" width="4.4" height="4.4"/><rect x="504.1" y="157.31" width="4.4" height="4.4"/><rect x="497.3" y="168.72" width="4.4" height="4.4"/><rect x="496.9" y="177.42" width="4.4" height="4.4"/><rect x="501.3" y="176.22" width="4.4" height="4.4"/><rect x="503.9" y="174.11" width="4.4" height="4.4"/><rect x="489.6" y="181.49" width="4.4" height="4.4"/><rect x="490.5" y="185.24" width="4.4" height="4.4"/><rect x="490.4" y="192.74" width="4.4" height="4.4"/><rect x="495.2" y="186.94" width="4.4" height="4.4"/><rect x="496.4" y="190.64" width="4.4" height="4.4"/><rect x="496.4" y="196.29" width="4.4" height="4.4"/><rect x="496.4" y="200.03" width="4.4" height="4.4"/><rect x="501.9" y="198.91" width="4.4" height="4.4"/><rect x="495.4" y="203.96" width="4.4" height="4.4"/><rect x="502.1" y="204.24" width="4.4" height="4.4"/><rect x="508.5" y="181.9" width="4.4" height="4.4"/><rect x="508" y="195.5" width="4.4" height="4.4"/><rect x="558.8" y="134.43" width="4.4" height="4.4"/><rect x="551.4" y="140.01" width="4.4" height="4.4"/><rect x="546.8" y="157.62" width="4.4" height="4.4"/><rect x="559.7" y="154.03" width="4.4" height="4.4"/><rect x="558.6" y="159.85" width="4.4" height="4.4"/><rect x="557.5" y="161.27" width="4.4" height="4.4"/><rect x="551.4" y="162.82" width="4.4" height="4.4"/><rect x="546.3" y="166.13" width="4.4" height="4.4"/><rect x="556.1" y="165.9" width="4.4" height="4.4"/><rect x="552.5" y="170.11" width="4.4" height="4.4"/><rect x="558.6" y="171.26" width="4.4" height="4.4"/><rect x="548.7" y="175.8" width="4.4" height="4.4"/><rect x="553.6" y="177.12" width="4.4" height="4.4"/><rect x="557.5" y="178.04" width="4.4" height="4.4"/><rect x="553.6" y="182.59" width="4.4" height="4.4"/><rect x="558.9" y="180.98" width="4.4" height="4.4"/><rect x="550" y="185.75" width="4.4" height="4.4"/><rect x="550.9" y="194.13" width="4.4" height="4.4"/><rect x="558" y="174.51" width="4.4" height="4.4"/><rect x="551.5" y="173.44" width="4.4" height="4.4"/></g>
<g fill="#f00" stroke="#300" stroke-width="0.5"><path d="M713.3,131.66 L716.4,134.76 L713.3,137.86 L710.2,134.76 Z"/><path d="M716.9,130.49 L720,133.59 L716.9,136.69 L713.8,133.59 Z"/><path d="M719.3,120.94 L722.4,124.04 L719.3,127.14 L716.2,124.04 Z"/><path d="M718,141.87 L721.1,144.97 L718,148.07 L714.9,144.97 Z"/><path d="M715.2,151.09 L718.3,154.19 L715.2,157.29 L712.1,154.19 Z"/><path d="M716.8,158.87 L719.9,161.97 L716.8,165.07 L713.7,161.97 Z"/></g>
<g fill="#000" stroke="#000" stroke-width="0.8" stroke-linejoin="miter"><path d="M438.3,29.14 L439.12,31.26 L441.39,31.39 L439.63,32.83 L440.21,35.02 L438.3,33.79 L436.39,35.02 L436.97,32.83 L435.21,31.39 L437.48,31.26Z"/><path d="M467.6,29.33 L468.42,31.45 L470.69,31.57 L468.93,33.01 L469.51,35.21 L467.6,33.98 L465.69,35.21 L466.27,33.01 L464.51,31.57 L466.78,31.45Z"/><path d="M447.7,115.16 L448.52,117.28 L450.79,117.4 L449.03,118.84 L449.61,121.04 L447.7,119.81 L445.79,121.04 L446.37,118.84 L444.61,117.4 L446.88,117.28Z"/><path d="M446.6,120.87 L447.42,122.99 L449.69,123.11 L447.93,124.55 L448.51,126.75 L446.6,125.51 L444.69,126.75 L445.27,124.55 L443.51,123.11 L445.78,122.99Z"/><path d="M452.9,137.96 L453.72,140.08 L455.99,140.21 L454.23,141.64 L454.81,143.84 L452.9,142.61 L450.99,143.84 L451.57,141.64 L449.81,140.21 L452.08,140.08Z"/><path d="M452.9,143.42 L453.72,145.54 L455.99,145.67 L454.23,147.11 L454.81,149.3 L452.9,148.07 L450.99,149.3 L451.57,147.11 L449.81,145.67 L452.08,145.54Z"/><path d="M461.4,177.04 L462.22,179.16 L464.49,179.29 L462.73,180.72 L463.31,182.92 L461.4,181.69 L459.49,182.92 L460.07,180.72 L458.31,179.29 L460.58,179.16Z"/></g>
<g fill="#84e284" stroke="#222" stroke-width="0.8"><path d="M478.5,146.98 L479.32,149.1 L481.59,149.22 L479.83,150.66 L480.41,152.86 L478.5,151.62 L476.59,152.86 L477.17,150.66 L475.41,149.22 L477.68,149.1Z"/><path d="M491.1,80.5 L491.92,82.62 L494.19,82.74 L492.43,84.18 L493.01,86.37 L491.1,85.14 L489.19,86.37 L489.77,84.18 L488.01,82.74 L490.28,82.62Z"/><path d="M499.3,78.94 L500.12,81.06 L502.39,81.18 L500.63,82.62 L501.21,84.82 L499.3,83.59 L497.39,84.82 L497.97,82.62 L496.21,81.18 L498.48,81.06Z"/><path d="M506.2,76.6 L507.02,78.72 L509.29,78.85 L507.53,80.29 L508.11,82.48 L506.2,81.25 L504.29,82.48 L504.87,80.29 L503.11,78.85 L505.38,78.72Z"/><path d="M496.6,85.77 L497.42,87.89 L499.69,88.02 L497.93,89.45 L498.51,91.65 L496.6,90.42 L494.69,91.65 L495.27,89.45 L493.51,88.02 L495.78,87.89Z"/><path d="M560.4,103.24 L561.22,105.36 L563.49,105.49 L561.73,106.92 L562.31,109.12 L560.4,107.89 L558.49,109.12 L559.07,106.92 L557.31,105.49 L559.58,105.36Z"/><path d="M561,109.57 L561.82,111.69 L564.09,111.81 L562.33,113.25 L562.91,115.45 L561,114.21 L559.09,115.45 L559.67,113.25 L557.91,111.81 L560.18,111.69Z"/><path d="M550.9,125.26 L551.72,127.38 L553.99,127.5 L552.23,128.94 L552.81,131.14 L550.9,129.91 L548.99,131.14 L549.57,128.94 L547.81,127.5 L550.08,127.38Z"/><path d="M561.2,128.7 L562.02,130.82 L564.29,130.94 L562.53,132.38 L563.11,134.58 L561.2,133.35 L559.29,134.58 L559.87,132.38 L558.11,130.94 L560.38,130.82Z"/></g>
<path d="M45.4,228.6 H356.4" stroke="#000" stroke-width="1"/>
<polyline points="424.43,237.42 427.35,236.71 430.27,236.01 433.19,235.32 436.11,234.63 439.03,233.96 441.95,233.29 444.87,232.62 447.79,231.97 450.72,231.32 453.64,230.68 456.56,230.04 459.48,229.42 462.4,228.8 465.32,228.18 468.24,227.57 471.16,226.97 474.08,226.37 477,225.78 479.92,225.19 482.84,224.61" stroke="#000" stroke-width="1" fill="none"/>
<polyline points="424.43,224.3 435.14,221.74 445.85,219.29 456.56,216.92 467.27,214.65 477.98,212.46 488.68,210.35 499.39,208.31 510.1,206.34 520.81,204.43 531.52,202.58 542.23,200.78 552.94,199.04 563.65,197.35 574.36,195.7 585.07,194.1 595.78,192.55 606.49,191.03 617.2,189.55 627.9,188.11 638.61,186.7" stroke="#a0eea0" stroke-width="1" fill="none"/>
<polyline points="541.26,181.54 550.99,179.95 560.73,178.41 570.46,176.9 580.2,175.43 589.94,173.99 599.67,172.59 609.41,171.22 619.14,169.88 628.88,168.58 638.61,167.3 648.35,166.05 658.09,164.82 667.82,163.63 677.56,162.45 687.29,161.3 697.03,160.17 706.76,159.06 716.5,157.98 726.24,156.91 735.97,155.86" stroke="#f03a3a" stroke-width="1" fill="none"/>
<rect x="292.5" y="12.1" width="58.8" height="61.2" fill="#fff" stroke="#1a1a1a" stroke-width="1"/>
<circle cx="306.5" cy="20.1" r="2.3" fill="#000"/>
<rect x="304.5" y="32.5" width="4" height="4" fill="#8fe88f" stroke="#1a3a1a" stroke-width="0.5"/>
<g fill="#f00" stroke="#300" stroke-width="0.5"><path d="M306.5,46.1 L309.4,49 L306.5,51.9 L303.6,49 Z"/></g>
<g fill="#fff" stroke="#333" stroke-width="0.7"><path d="M306.7,60.5 L307.56,62.72 L309.93,62.85 L308.09,64.35 L308.7,66.65 L306.7,65.36 L304.7,66.65 L305.31,64.35 L303.47,62.85 L305.84,62.72Z"/></g>
<text x="325" y="23.1" class="t lg">H<tspan class="m">α</tspan></text>
<text x="325" y="37.7" class="t lg">[OIII]</text>
<text x="325" y="52.3" class="t lg">[OII]</text>
<text x="325" y="66.9" class="t lg">AGN</text>
<rect x="671.8" y="12.1" width="58.8" height="61.2" fill="#fff" stroke="#1a1a1a" stroke-width="1"/>
<circle cx="685.8" cy="20.1" r="2.3" fill="#000"/>
<rect x="683.8" y="32.5" width="4" height="4" fill="#8fe88f" stroke="#1a3a1a" stroke-width="0.5"/>
<g fill="#f00" stroke="#300" stroke-width="0.5"><path d="M685.8,46.1 L688.7,49 L685.8,51.9 L682.9,49 Z"/></g>
<g fill="#fff" stroke="#333" stroke-width="0.7"><path d="M686,60.5 L686.86,62.72 L689.23,62.85 L687.39,64.35 L688,66.65 L686,65.36 L684,66.65 L684.61,64.35 L682.77,62.85 L685.14,62.72Z"/></g>
<text x="704.3" y="23.1" class="t lg">H<tspan class="m">α</tspan></text>
<text x="704.3" y="37.7" class="t lg">[OIII]</text>
<text x="704.3" y="52.3" class="t lg">[OII]</text>
<text x="704.3" y="66.9" class="t lg">AGN</text>
<text x="65.67" y="258.4" class="t" text-anchor="middle">1.4</text>
<text x="104.61" y="258.4" class="t" text-anchor="middle">1.6</text>
<text x="143.56" y="258.4" class="t" text-anchor="middle">1.8</text>
<text x="182.5" y="258.4" class="t" text-anchor="middle">2.0</text>
<text x="221.44" y="258.4" class="t" text-anchor="middle">2.2</text>
<text x="260.39" y="258.4" class="t" text-anchor="middle">2.4</text>
<text x="299.33" y="258.4" class="t" text-anchor="middle">2.6</text>
<text x="338.27" y="258.4" class="t" text-anchor="middle">2.8</text>
<text x="201.5" y="272.4" class="t" style="font-size:12px" text-anchor="middle">z</text>
<text x="444.97" y="258.4" class="t" text-anchor="middle">1.4</text>
<text x="483.91" y="258.4" class="t" text-anchor="middle">1.6</text>
<text x="522.86" y="258.4" class="t" text-anchor="middle">1.8</text>
<text x="561.8" y="258.4" class="t" text-anchor="middle">2.0</text>
<text x="600.74" y="258.4" class="t" text-anchor="middle">2.2</text>
<text x="639.69" y="258.4" class="t" text-anchor="middle">2.4</text>
<text x="678.63" y="258.4" class="t" text-anchor="middle">2.6</text>
<text x="717.57" y="258.4" class="t" text-anchor="middle">2.8</text>
<text x="580.8" y="272.4" class="t" style="font-size:12px" text-anchor="middle">z</text>
<text x="28.9" y="251.3" class="t" style="font-size:10.4px" text-anchor="end" textLength="11.6" lengthAdjust="spacingAndGlyphs">10</text>
<text x="29.3" y="246.3" class="t sup">-17</text>
<text x="28.9" y="191.12" class="t" style="font-size:10.4px" text-anchor="end" textLength="11.6" lengthAdjust="spacingAndGlyphs">10</text>
<text x="29.3" y="186.12" class="t sup">-16</text>
<text x="28.9" y="130.95" class="t" style="font-size:10.4px" text-anchor="end" textLength="11.6" lengthAdjust="spacingAndGlyphs">10</text>
<text x="29.3" y="125.95" class="t sup">-15</text>
<text x="28.9" y="70.78" class="t" style="font-size:10.4px" text-anchor="end" textLength="11.6" lengthAdjust="spacingAndGlyphs">10</text>
<text x="29.3" y="65.78" class="t sup">-14</text>
<text x="28.9" y="10.6" class="t" style="font-size:10.4px" text-anchor="end" textLength="11.6" lengthAdjust="spacingAndGlyphs">10</text>
<text x="29.3" y="5.6" class="t sup">-13</text>
<text x="415.2" y="211.01" class="t" style="font-size:10.4px" text-anchor="end" textLength="11.6" lengthAdjust="spacingAndGlyphs">10</text>
<text x="415.5" y="206.01" class="t sup">1</text>
<text x="415.2" y="153.38" class="t" style="font-size:10.4px" text-anchor="end" textLength="11.6" lengthAdjust="spacingAndGlyphs">10</text>
<text x="415.5" y="148.38" class="t sup">2</text>
<text x="415.2" y="95.74" class="t" style="font-size:10.4px" text-anchor="end" textLength="11.6" lengthAdjust="spacingAndGlyphs">10</text>
<text x="415.5" y="90.74" class="t sup">3</text>
<text x="415.2" y="38.1" class="t" style="font-size:10.4px" text-anchor="end" textLength="11.6" lengthAdjust="spacingAndGlyphs">10</text>
<text x="415.5" y="33.1" class="t sup">4</text>
<text transform="translate(10.2,189.4) rotate(-90)" class="t" style="font-size:11.2px">Line flux</text>
<text transform="translate(10.3,140.2) rotate(-90)" class="s" style="font-size:12.6px">(erg</text>
<text transform="translate(10.3,116.2) rotate(-90)" class="s" style="font-size:11.5px">cm</text>
<text transform="translate(5.9,102) rotate(-90)" class="sd" style="font-size:7.4px">−2</text>
<text transform="translate(10.3,86.3) rotate(-90)" class="s" style="font-size:11.5px">s</text>
<text transform="translate(5.9,81.5) rotate(-90)" class="sd" style="font-size:7.4px">−1</text>
<text transform="translate(10.3,69) rotate(-90)" class="s" style="font-size:11.5px">)</text>
<text transform="translate(394.9,168.9) rotate(-90)" class="t" style="font-size:11.9px">SFR</text>
<text transform="translate(394.9,141.8) rotate(-90)" class="s" style="font-size:11.5px">(</text>
<text transform="translate(394.9,137.4) rotate(-90)" class="s i" style="font-size:13.2px">M</text>
<text transform="translate(397.6,125.4) rotate(-90)" class="s" style="font-size:7.5px">⊙</text>
<text transform="translate(394.9,115.5) rotate(-90)" class="s" style="font-size:11.5px">yr</text>
<text transform="translate(390.6,104.6) rotate(-90)" class="sd" style="font-size:7.4px">−1</text>
<text transform="translate(394.9,93) rotate(-90)" class="s" style="font-size:11.5px">)</text>
</svg>
</body></html>
